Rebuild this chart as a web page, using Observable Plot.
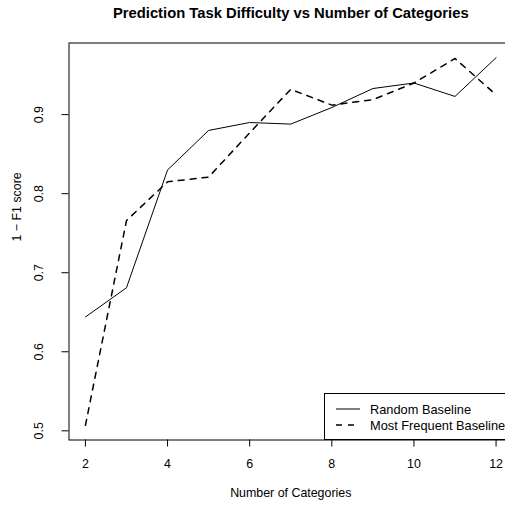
<!DOCTYPE html>
<html>
<head>
<meta charset="utf-8">
<script src="https://cdn.jsdelivr.net/npm/d3@7"></script>
<script src="https://cdn.jsdelivr.net/npm/@observablehq/plot@0.6"></script>
<style>
  html, body { margin: 0; padding: 0; background: white; overflow: hidden; }
  #wrap { position: relative; width: 505px; height: 505px; overflow: hidden; font-family: "Liberation Sans", Arial, Helvetica, sans-serif; }
  #chart svg { max-width: none !important; width: 512px !important; height: 505px !important; display: block; }
  #legend { position: absolute; left: 324px; top: 393px; width: 190px; height: 47px; border: 1px solid black; background: white; box-sizing: border-box; font-size: 12.8px; }
  .row { position: absolute; left: 11px; height: 14px; display: flex; align-items: center; white-space: nowrap; }
  .row svg { margin-right: 10px; }
</style>
</head>
<body>
<div id="wrap">
  <div id="chart"></div>
  <div id="legend">
    <div class="row" style="top:8px"><svg width="24" height="4"><line x1="0" x2="24" y1="2" y2="2" stroke="black" stroke-width="1"/></svg><span id="lg1"></span></div>
    <div class="row" style="top:24px"><svg width="24" height="4"><line x1="0" x2="24" y1="2" y2="2" stroke="black" stroke-width="1.5" stroke-dasharray="6,6"/></svg><span id="lg2"></span></div>
  </div>
</div>
<script>
const categories = [2, 3, 4, 5, 6, 7, 8, 9, 10, 11, 12];
const randomBaseline = [0.644, 0.681, 0.830, 0.880, 0.890, 0.888, 0.909, 0.933, 0.940, 0.923, 0.972];
const mostFrequentBaseline = [0.507, 0.766, 0.815, 0.821, 0.877, 0.932, 0.912, 0.919, 0.940, 0.971, 0.925];
const seriesNames = ["Random Baseline", "Most Frequent Baseline"];
const xTicks = [2, 4, 6, 8, 10, 12];
const yTicks = [0.5, 0.6, 0.7, 0.8, 0.9];
const title = "Prediction Task Difficulty vs Number of Categories";
const xLabel = "Number of Categories";
const yLabel = "1 \u2212 F1 score";

const table = categories.map((c, i) => ({c, random: randomBaseline[i], freq: mostFrequentBaseline[i]}));

// R-style 4% axis extension
function ext(a) { const [lo, hi] = d3.extent(a); const r = hi - lo; return [lo - 0.04 * r, hi + 0.04 * r]; }
const xDomain = ext(categories);
const yDomain = ext(randomBaseline.concat(mostFrequentBaseline));

const fs = 12.4;
const chart = Plot.plot({
  width: 512,
  height: 505,
  marginLeft: 68.5,
  marginRight: 0,
  marginTop: 42.5,
  marginBottom: 65.5,
  style: {fontFamily: "'Liberation Sans', Arial, Helvetica, sans-serif", fontSize: fs + "px", background: "white", color: "black", maxWidth: "none"},
  x: {domain: xDomain},
  y: {domain: yDomain},
  marks: [
    Plot.frame({stroke: "black"}),
    Plot.axisX(xTicks, {tickSize: 7, fill: "none", label: null, stroke: "black"}),
    Plot.axisY(yTicks, {tickSize: 7, fill: "none", label: null, stroke: "black"}),
    Plot.text(xTicks, {x: d => d, text: d => String(d), frameAnchor: "bottom", dy: 24, lineAnchor: "middle", fontSize: fs, fill: "black"}),
    Plot.text(yTicks, {y: d => d, text: d => d.toFixed(1), frameAnchor: "left", dx: -29.5, rotate: -90, textAnchor: "middle", lineAnchor: "middle", fontSize: fs, fill: "black"}),
    Plot.text([xLabel], {text: d => d, frameAnchor: "bottom", dy: 53, lineAnchor: "middle", fontSize: fs, fill: "black"}),
    Plot.text([yLabel], {text: d => d, frameAnchor: "left", dx: -52, rotate: -90, lineAnchor: "middle", fontSize: fs, fill: "black"}),
    Plot.text([title], {text: d => d, frameAnchor: "top", dy: -29.5, lineAnchor: "middle", fontSize: 14.8, fontWeight: "bold", fill: "black"}),
    Plot.line(table, {x: "c", y: "random", stroke: "black", strokeWidth: 1}),
    Plot.line(table, {x: "c", y: "freq", stroke: "black", strokeWidth: 1.5, strokeDasharray: "6,6"})
  ]
});
document.getElementById("chart").appendChild(chart);
document.getElementById("lg1").textContent = seriesNames[0];
document.getElementById("lg2").textContent = seriesNames[1];
</script>
</body>
</html>
